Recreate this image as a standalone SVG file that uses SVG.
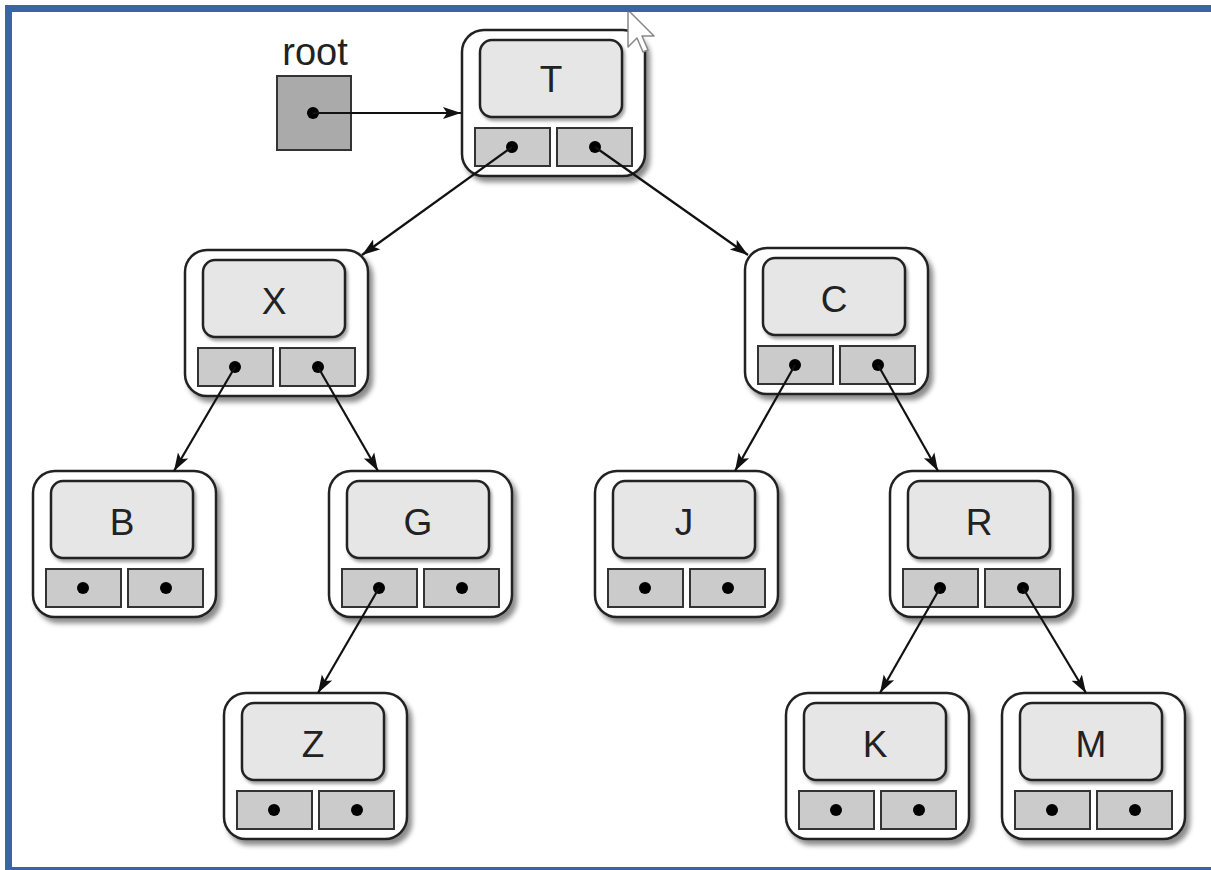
<svg xmlns="http://www.w3.org/2000/svg" width="1211" height="870" viewBox="0 0 1211 870">
<defs>
<filter id="sh" x="-10%" y="-10%" width="130%" height="130%">
<feDropShadow dx="4" dy="5" stdDeviation="2.5" flood-color="#000" flood-opacity="0.45"/>
</filter>
<filter id="sh2" x="-10%" y="-10%" width="130%" height="130%">
<feDropShadow dx="2" dy="3" stdDeviation="1.5" flood-color="#000" flood-opacity="0.35"/>
</filter>
<marker id="ah" markerUnits="userSpaceOnUse" markerWidth="20" markerHeight="14" refX="18" refY="7" orient="auto">
<path d="M0,1 L18,7 L0,13 L4,7 z" fill="#111"/>
</marker>
<g id="node">
<rect x="0" y="0" width="183" height="146" rx="22" fill="#fff" stroke="#222" stroke-width="2.5" filter="url(#sh)"/>
<rect x="18" y="10" width="142" height="77" rx="12" fill="#e6e6e6" stroke="#222" stroke-width="2.5" filter="url(#sh2)"/>
<rect x="13" y="98" width="75" height="38" fill="#cbcbcb" stroke="#333" stroke-width="2"/>
<rect x="95" y="98" width="75" height="38" fill="#cbcbcb" stroke="#333" stroke-width="2"/>
<circle cx="50" cy="117" r="6" fill="#000"/>
<circle cx="133" cy="117" r="6" fill="#000"/>
</g>
</defs>
<style>
.lbl{font-family:"Liberation Sans",Arial,sans-serif;font-size:37px;fill:#222;text-anchor:middle}
.edge{stroke:#111;stroke-width:2.2;fill:none;marker-end:url(#ah)}
</style>
<rect x="0" y="0" width="1211" height="870" fill="#fff"/>

<g id="root">
<text class="lbl" x="315" y="65" style="font-size:38px">root</text>
<rect x="277" y="76" width="74" height="74" fill="#aaaaaa" stroke="#333" stroke-width="2"/>
<circle cx="313" cy="113" r="6" fill="#000"/>
</g>

<g id="node-T" transform="translate(462,30)"><use href="#node"/><text class="lbl" x="89" y="62">T</text></g>
<g id="node-X" transform="translate(185,250)"><use href="#node"/><text class="lbl" x="89" y="64">X</text></g>
<g id="node-C" transform="translate(745,248)"><use href="#node"/><text class="lbl" x="89" y="64">C</text></g>
<g id="node-B" transform="translate(33,471)"><use href="#node"/><text class="lbl" x="89" y="64">B</text></g>
<g id="node-G" transform="translate(329,471)"><use href="#node"/><text class="lbl" x="89" y="64">G</text></g>
<g id="node-J" transform="translate(595,471)"><use href="#node"/><text class="lbl" x="89" y="64">J</text></g>
<g id="node-R" transform="translate(890,471)"><use href="#node"/><text class="lbl" x="89" y="64">R</text></g>
<g id="node-Z" transform="translate(224,693)"><use href="#node"/><text class="lbl" x="89" y="64">Z</text></g>
<g id="node-K" transform="translate(786,693)"><use href="#node"/><text class="lbl" x="89" y="64">K</text></g>
<g id="node-M" transform="translate(1002,693)"><use href="#node"/><text class="lbl" x="89" y="64">M</text></g>

<g id="connectors">
<line class="edge" x1="313" y1="113" x2="461" y2="113"/>
<line class="edge" x1="512" y1="147" x2="362" y2="255"/>
<line class="edge" x1="595" y1="147" x2="748" y2="255"/>
<line class="edge" x1="235" y1="367" x2="174" y2="471"/>
<line class="edge" x1="318" y1="367" x2="378" y2="471"/>
<line class="edge" x1="795" y1="365" x2="735" y2="471"/>
<line class="edge" x1="878" y1="365" x2="938" y2="471"/>
<line class="edge" x1="379" y1="588" x2="318" y2="693"/>
<line class="edge" x1="940" y1="588" x2="880" y2="693"/>
<line class="edge" x1="1023" y1="588" x2="1086" y2="693"/>
</g>

<polygon id="cursor" points="628,10 628,47 637,38 643,52 648,50 642,36 654,36" fill="#fff" stroke="#888" stroke-width="1.5" stroke-linejoin="round"/>

<rect id="frame" x="8.5" y="8.5" width="1214" height="862" fill="none" stroke="#3a64a6" stroke-width="7"/>
</svg>
